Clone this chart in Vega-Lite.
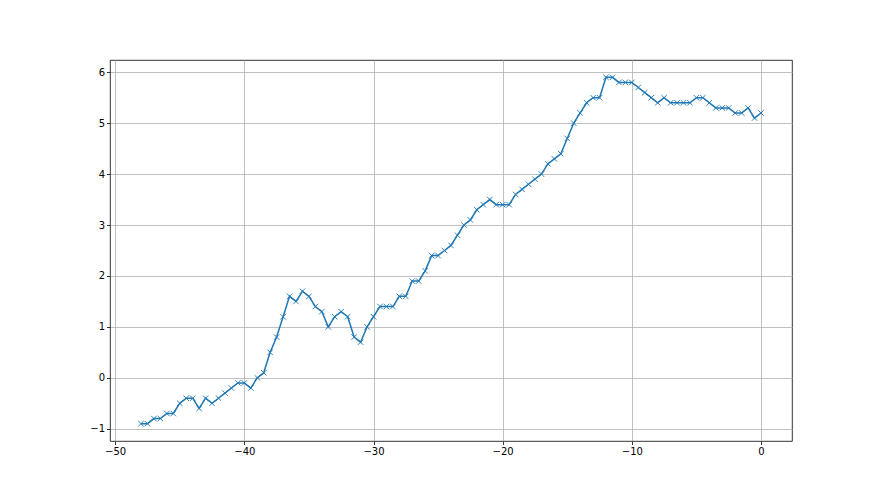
{
  "$schema": "https://vega.github.io/schema/vega-lite/v6.json",
  "autosize": {"type": "none"},
  "width": 682,
  "height": 381,
  "padding": {"left": 110, "top": 60, "right": 88, "bottom": 54},
  "background": "white",
  "config": {
    "view": {"stroke": "black", "strokeWidth": 0.8},
    "axis": {
      "labelFont": "DejaVu Sans",
      "labelFontSize": 10,
      "labelColor": "black",
      "tickColor": "black",
      "tickSize": 3.5,
      "tickWidth": 0.8,
      "labelPadding": 2,
      "domain": false,
      "grid": true,
      "gridColor": "#b0b0b0",
      "gridWidth": 0.8,
      "title": null
    }
  },
  "data": {
    "values": [
      {"x": -48, "y": -0.9}, {"x": -47.5, "y": -0.9}, {"x": -47, "y": -0.8}, {"x": -46.5, "y": -0.8},
      {"x": -46, "y": -0.7}, {"x": -45.5, "y": -0.7}, {"x": -45, "y": -0.5}, {"x": -44.5, "y": -0.4},
      {"x": -44, "y": -0.4}, {"x": -43.5, "y": -0.6}, {"x": -43, "y": -0.4}, {"x": -42.5, "y": -0.5},
      {"x": -42, "y": -0.4}, {"x": -41.5, "y": -0.3}, {"x": -41, "y": -0.2}, {"x": -40.5, "y": -0.1},
      {"x": -40, "y": -0.1}, {"x": -39.5, "y": -0.2}, {"x": -39, "y": 0.0}, {"x": -38.5, "y": 0.1},
      {"x": -38, "y": 0.5}, {"x": -37.5, "y": 0.8}, {"x": -37, "y": 1.2}, {"x": -36.5, "y": 1.6},
      {"x": -36, "y": 1.5}, {"x": -35.5, "y": 1.7}, {"x": -35, "y": 1.6}, {"x": -34.5, "y": 1.4},
      {"x": -34, "y": 1.3}, {"x": -33.5, "y": 1.0}, {"x": -33, "y": 1.2}, {"x": -32.5, "y": 1.3},
      {"x": -32, "y": 1.2}, {"x": -31.5, "y": 0.8}, {"x": -31, "y": 0.7}, {"x": -30.5, "y": 1.0},
      {"x": -30, "y": 1.2}, {"x": -29.5, "y": 1.4}, {"x": -29, "y": 1.4}, {"x": -28.5, "y": 1.4},
      {"x": -28, "y": 1.6}, {"x": -27.5, "y": 1.6}, {"x": -27, "y": 1.9}, {"x": -26.5, "y": 1.9},
      {"x": -26, "y": 2.1}, {"x": -25.5, "y": 2.4}, {"x": -25, "y": 2.4}, {"x": -24.5, "y": 2.5},
      {"x": -24, "y": 2.6}, {"x": -23.5, "y": 2.8}, {"x": -23, "y": 3.0}, {"x": -22.5, "y": 3.1},
      {"x": -22, "y": 3.3}, {"x": -21.5, "y": 3.4}, {"x": -21, "y": 3.5}, {"x": -20.5, "y": 3.4},
      {"x": -20, "y": 3.4}, {"x": -19.5, "y": 3.4}, {"x": -19, "y": 3.6}, {"x": -18.5, "y": 3.7},
      {"x": -18, "y": 3.8}, {"x": -17.5, "y": 3.9}, {"x": -17, "y": 4.0}, {"x": -16.5, "y": 4.2},
      {"x": -16, "y": 4.3}, {"x": -15.5, "y": 4.4}, {"x": -15, "y": 4.7}, {"x": -14.5, "y": 5.0},
      {"x": -14, "y": 5.2}, {"x": -13.5, "y": 5.4}, {"x": -13, "y": 5.5}, {"x": -12.5, "y": 5.5},
      {"x": -12, "y": 5.9}, {"x": -11.5, "y": 5.9}, {"x": -11, "y": 5.8}, {"x": -10.5, "y": 5.8},
      {"x": -10, "y": 5.8}, {"x": -9.5, "y": 5.7}, {"x": -9, "y": 5.6}, {"x": -8.5, "y": 5.5},
      {"x": -8, "y": 5.4}, {"x": -7.5, "y": 5.5}, {"x": -7, "y": 5.4}, {"x": -6.5, "y": 5.4},
      {"x": -6, "y": 5.4}, {"x": -5.5, "y": 5.4}, {"x": -5, "y": 5.5}, {"x": -4.5, "y": 5.5},
      {"x": -4, "y": 5.4}, {"x": -3.5, "y": 5.3}, {"x": -3, "y": 5.3}, {"x": -2.5, "y": 5.3},
      {"x": -2, "y": 5.2}, {"x": -1.5, "y": 5.2}, {"x": -1, "y": 5.3}, {"x": -0.5, "y": 5.1},
      {"x": 0, "y": 5.2}
    ]
  },
  "encoding": {
    "x": {
      "field": "x", "type": "quantitative",
      "scale": {"domain": [-50.4, 2.4], "nice": false, "zero": false},
      "axis": {"values": [-50, -40, -30, -20, -10, 0], "labelExpr": "replace(datum.label, '-', '−')", "labelFlush": false}
    },
    "y": {
      "field": "y", "type": "quantitative",
      "scale": {"domain": [-1.24, 6.24], "nice": false, "zero": false},
      "axis": {"values": [-1, 0, 1, 2, 3, 4, 5, 6], "labelExpr": "replace(datum.label, '-', '−')", "labelFlush": false}
    }
  },
  "layer": [
    {"mark": {"type": "line", "color": "#1f77b4", "strokeWidth": 1.5}},
    {"mark": {"type": "point", "shape": "M-1,-1L1,1M-1,1L1,-1", "filled": false, "stroke": "#1f77b4", "strokeWidth": 1, "size": 30, "opacity": 0.9}}
  ]
}
